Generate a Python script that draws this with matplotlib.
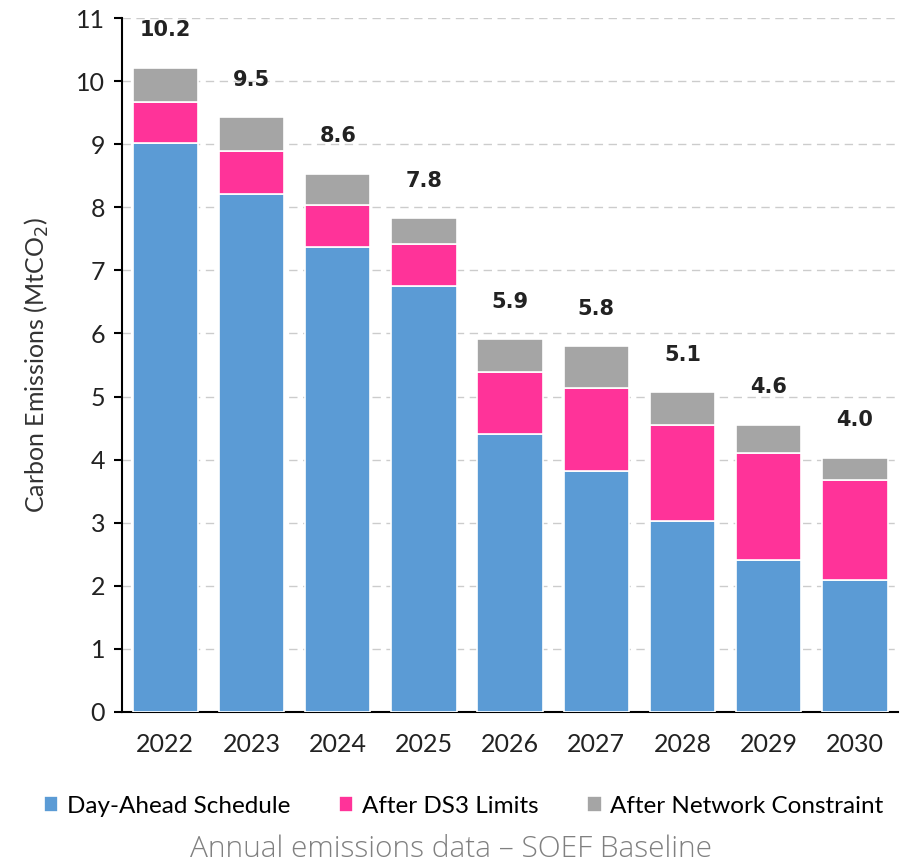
import numpy as np
import matplotlib.pyplot as plt

years = ["2022", "2023", "2024", "2025", "2026", "2027", "2028", "2029", "2030"]
day_ahead = [9.02, 8.21, 7.37, 6.75, 4.41, 3.82, 3.03, 2.41, 2.09]
ds3_limits = [0.65, 0.68, 0.67, 0.67, 0.98, 1.32, 1.52, 1.70, 1.59]
network = [0.54, 0.54, 0.49, 0.41, 0.52, 0.66, 0.52, 0.44, 0.35]
totals = ["10.2", "9.5", "8.6", "7.8", "5.9", "5.8", "5.1", "4.6", "4.0"]

blue = "#5B9BD5"
pink = "#FF3399"
grey = "#A5A5A5"
font = ["Lato", "DejaVu Sans"]

fig = plt.figure(figsize=(9.02, 8.65), dpi=100)
ax = fig.add_axes([0.135, 0.177, 0.861, 0.802])

x = np.arange(len(years))
w = 0.76
b1 = ax.bar(x, day_ahead, w, color=blue, edgecolor="white", linewidth=1.2,
            label="Day-Ahead Schedule", zorder=3)
b2 = ax.bar(x, ds3_limits, w, bottom=day_ahead, color=pink, edgecolor="white",
            linewidth=1.2, label="After DS3 Limits", zorder=3)
bottom2 = np.array(day_ahead) + np.array(ds3_limits)
b3 = ax.bar(x, network, w, bottom=bottom2, color=grey, edgecolor="white",
            linewidth=1.2, label="After Network Constraint", zorder=3)

# total labels above each stack
top = bottom2 + np.array(network)
for xi, yi, lab in zip(x, top, totals):
    ax.annotate(lab, (xi, yi), xytext=(0, 27), textcoords="offset points",
                ha="center", va="center", fontsize=15, fontweight="bold",
                color="#222222", family=["DejaVu Sans"])

ax.set_ylim(0, 11)
ax.set_xlim(-0.505, 8.505)
ax.set_yticks(range(0, 12))
ax.set_xticks(x)
ax.set_xticklabels(years)
ax.grid(axis="y", color="#CCCCCC", linestyle=(0, (6, 4)), linewidth=1, zorder=0)
ax.spines["top"].set_visible(False)
ax.spines["right"].set_visible(False)
ax.spines["left"].set_linewidth(1.5)
ax.spines["bottom"].set_linewidth(1.5)
ax.tick_params(axis="y", length=6, width=1.5, labelsize=18, pad=6)
ax.tick_params(axis="x", length=0, labelsize=18, pad=15)
for t in ax.get_xticklabels() + ax.get_yticklabels():
    t.set_family(font)
    t.set_color("#222222")

ax.set_ylabel("Carbon Emissions (MtCO$_2$)", fontsize=18, family=font,
              color="#333333", labelpad=18)

fig.legend(handles=[b1, b2, b3], loc="center", bbox_to_anchor=(0.514, 0.068),
           ncol=3, frameon=False, handlelength=0.6, handleheight=0.6,
           columnspacing=2.0, handletextpad=0.35, prop={"family": font, "size": 17.5})

fig.text(0.5, 0.009, "Annual emissions data \u2013 SOEF Baseline", ha="center",
         va="baseline", fontsize=21.5, color="#808080",
         family=["Open Sans", "DejaVu Sans"], fontweight="light")

fig.savefig("out.png", dpi=100)
